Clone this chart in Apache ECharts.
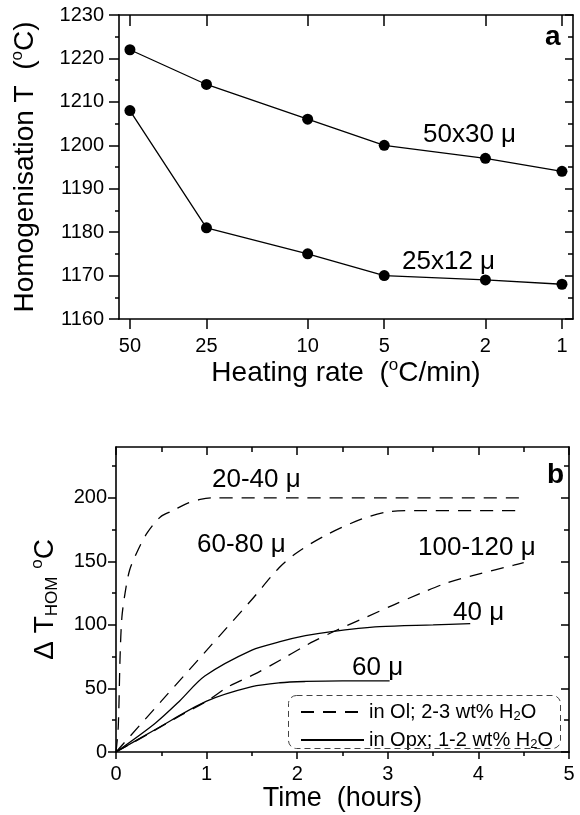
<!DOCTYPE html>
<html><head><meta charset="utf-8">
<script src="https://cdn.jsdelivr.net/npm/echarts@6/dist/echarts.min.js"></script>
<style>html,body{margin:0;padding:0;background:#fff}#c{width:580px;height:815px}</style>
</head><body><div id="c"></div>
<script>
// ---------- Panel a ----------
const heatingRates = [50, 25, 10, 5, 2, 1];
const homT_50x30 = [1222, 1214, 1206, 1200, 1197, 1194];
const homT_25x12 = [1208, 1181, 1175, 1170, 1169, 1168];
const rateAxisMin = 0.905, rateAxisMax = 55.2;

// ---------- Panel b ----------
const t_20_40 = [0, 0.025, 0.045, 0.065, 0.1, 0.15, 0.23, 0.34, 0.49, 0.63, 0.78, 0.93, 1.07, 2.0, 3.0, 4.53];
const d_20_40 = [0, 20, 75, 106, 125, 143, 157, 172, 185, 190, 195.5, 198.7, 200, 200, 200, 200];
const t_60_80 = [0, 0.5, 1.0, 1.5, 1.8, 2.0, 2.3, 2.7, 3.0, 3.3, 4.46];
const d_60_80 = [0, 40, 80, 120, 145, 157, 170, 183, 189, 190, 190];
const t_100_120 = [0, 0.37, 0.66, 1.0, 1.24, 1.53, 1.83, 2.05, 2.18, 2.44, 2.77, 3.06, 3.36, 3.65, 4.0, 4.39, 4.5];
const d_100_120 = [0, 14.7, 26.7, 40, 51.4, 61.3, 73, 82, 87, 96, 106.4, 115.6, 124.8, 133, 140, 147, 149];
const t_40 = [0, 0.43, 0.7, 0.98, 1.5, 1.81, 2.09, 2.36, 2.91, 3.5, 3.91];
const d_40 = [0, 22.5, 40, 59.8, 80.2, 86.8, 91.5, 94.6, 98.6, 100, 101];
const t_60 = [0, 0.43, 1.0, 1.5, 1.81, 2.09, 2.5, 3.02];
const d_60 = [0, 17.5, 40, 51.4, 54.5, 55.5, 56, 56];
const yTicksB = [0, 50, 100, 150, 200];

const legendOl = 'in Ol; 2-3 wt% H2O';
const legendOpx = 'in Opx; 1-2 wt% H2O';

const zip = (a, b) => a.map((v, i) => [v, b[i]]);
const FONT = 'Liberation Sans, Arial, Helvetica, sans-serif';
const BLACK = '#000';

const chart = echarts.init(document.getElementById('c'), null, {renderer: 'canvas'});

const axisLineStyle = {show: true, onZero: false, lineStyle: {color: BLACK, width: 1.6}};
const rateTickValues = heatingRates.map(r => Math.log10(r));

const option = {
  animation: false,
  backgroundColor: '#fff',
  textStyle: {fontFamily: FONT, color: BLACK},
  grid: [
    {left: 119, top: 15, width: 454, height: 304},
    {left: 116, top: 447, width: 453, height: 305}
  ],
  xAxis: [
    { // panel a bottom
      type: 'value', gridIndex: 0, inverse: true,
      min: Math.log10(rateAxisMin), max: Math.log10(rateAxisMax),
      axisLine: axisLineStyle,
      axisTick: {show: true, inside: false, length: 10, lineStyle: {color: BLACK, width: 1.5}, customValues: rateTickValues},
      axisLabel: {fontSize: 20, color: BLACK, margin: 17, fontFamily: FONT, customValues: rateTickValues,
        formatter: v => String(Math.round(Math.pow(10, v)))},
      splitLine: {show: false},
      name: '{t|Heating rate  (}{sup|o}{t|C/min)}', nameLocation: 'middle', nameGap: 35,
      nameTextStyle: {rich: {
        t: {fontSize: 28, lineHeight: 32, fontFamily: FONT, color: BLACK},
        sup: {fontSize: 17, lineHeight: 17, verticalAlign: 'top', fontFamily: FONT, color: BLACK}}}
    },
    { // panel a top mirror
      type: 'value', gridIndex: 0, inverse: true, position: 'top',
      min: Math.log10(rateAxisMin), max: Math.log10(rateAxisMax),
      axisLine: axisLineStyle,
      axisTick: {show: true, inside: true, length: 11, lineStyle: {color: BLACK, width: 1.5}, customValues: rateTickValues},
      axisLabel: {show: false, customValues: rateTickValues},
      splitLine: {show: false}
    },
    { // panel b bottom
      type: 'value', gridIndex: 1, min: 0, max: 5, interval: 1,
      axisLine: axisLineStyle,
      axisTick: {show: true, inside: false, length: 7, lineStyle: {color: BLACK, width: 1.5}},
      minorTick: {show: true, splitNumber: 2, length: 4, lineStyle: {color: BLACK, width: 1.5}},
      axisLabel: {fontSize: 20, color: BLACK, margin: 12, fontFamily: FONT},
      splitLine: {show: false},
      name: 'Time  (hours)', nameLocation: 'middle', nameGap: 31,
      nameTextStyle: {fontSize: 27, fontFamily: FONT, color: BLACK}
    },
    { // panel b top mirror
      type: 'value', gridIndex: 1, min: 0, max: 5, interval: 1, position: 'top',
      axisLine: axisLineStyle,
      axisTick: {show: true, inside: true, length: 8, lineStyle: {color: BLACK, width: 1.5}},
      minorTick: {show: true, splitNumber: 2, length: 5, lineStyle: {color: BLACK, width: 1.5}},
      axisLabel: {show: false},
      splitLine: {show: false}
    }
  ],
  yAxis: [
    { // panel a left
      type: 'value', gridIndex: 0, min: 1160, max: 1230, interval: 10,
      axisLine: axisLineStyle,
      axisTick: {show: true, inside: false, length: 10, lineStyle: {color: BLACK, width: 1.5}},
      minorTick: {show: true, splitNumber: 2, length: 4, lineStyle: {color: BLACK, width: 1.5}},
      axisLabel: {fontSize: 20, color: BLACK, margin: 15, fontFamily: FONT, formatter: v => String(v)},
      splitLine: {show: false},
      name: '{t|Homogenisation T  (}{sup|o}{t|C)}', nameLocation: 'middle', nameGap: 78, nameRotate: 90,
      nameTextStyle: {rich: {
        t: {fontSize: 28, lineHeight: 32, fontFamily: FONT, color: BLACK},
        sup: {fontSize: 17, lineHeight: 17, verticalAlign: 'top', fontFamily: FONT, color: BLACK}}}
    },
    { // panel a right mirror
      type: 'value', gridIndex: 0, min: 1160, max: 1230, interval: 10, position: 'right',
      axisLine: axisLineStyle,
      axisTick: {show: true, inside: true, length: 8, lineStyle: {color: BLACK, width: 1.5}},
      minorTick: {show: true, splitNumber: 2, length: 5, lineStyle: {color: BLACK, width: 1.5}},
      axisLabel: {show: false},
      splitLine: {show: false}
    },
    { // panel b left
      type: 'value', gridIndex: 1, min: 0, max: 240, interval: 50,
      axisLine: axisLineStyle,
      axisTick: {show: true, inside: false, length: 8, lineStyle: {color: BLACK, width: 1.5}, customValues: yTicksB},
      minorTick: {show: true, splitNumber: 2, length: 4, lineStyle: {color: BLACK, width: 1.5}},
      axisLabel: {fontSize: 20, color: BLACK, margin: 9, fontFamily: FONT, customValues: yTicksB},
      splitLine: {show: false},
      name: '{t|\u0394 T}{sub|HOM}{t| }{sup|o}{t|C}', nameLocation: 'middle', nameGap: 55, nameRotate: 90,
      nameTextStyle: {rich: {
        t: {fontSize: 28, lineHeight: 32, fontFamily: FONT, color: BLACK},
        sub: {fontSize: 17, lineHeight: 17, verticalAlign: 'bottom', fontFamily: FONT, color: BLACK},
        sup: {fontSize: 17, lineHeight: 17, verticalAlign: 'top', fontFamily: FONT, color: BLACK}}}
    },
    { // panel b right mirror
      type: 'value', gridIndex: 1, min: 0, max: 240, interval: 50, position: 'right',
      axisLine: axisLineStyle,
      axisTick: {show: true, inside: true, length: 8, lineStyle: {color: BLACK, width: 1.5}, customValues: yTicksB},
      minorTick: {show: true, splitNumber: 2, length: 5, lineStyle: {color: BLACK, width: 1.5}},
      axisLabel: {show: false, customValues: yTicksB},
      splitLine: {show: false}
    }
  ],
  legend: {
    data: [legendOl, legendOpx],
    orient: 'vertical', left: 295, top: 697,
    itemWidth: 63, itemHeight: 14, itemGap: 7,
    selectedMode: false,
    itemStyle: {opacity: 0},
    formatter: name => name === legendOl
      ? '{t|in Ol; 2-3 wt% H}{s|2}{t|O}'
      : '{t|in Opx; 1-2 wt% H}{s|2}{t|O}',
    textStyle: {
      rich: {
        t: {fontSize: 20, lineHeight: 22, fontFamily: FONT, color: BLACK},
        s: {fontSize: 13, lineHeight: 13, verticalAlign: 'bottom', fontFamily: FONT, color: BLACK}
      }
    }
  },
  graphic: [
    {type: 'rect', left: 288, top: 695, z: 5,
      shape: {width: 272, height: 53, r: 8},
      style: {fill: 'rgba(0,0,0,0)', stroke: '#444', lineWidth: 1, lineDash: [6, 4]}},
    {type: 'text', x: 423, y: 135, style: {text: '50x30 \u03bc', font: '26px ' + FONT, fill: BLACK, verticalAlign: 'middle'}},
    {type: 'text', x: 402, y: 262, style: {text: '25x12 \u03bc', font: '26px ' + FONT, fill: BLACK, verticalAlign: 'middle'}},
    {type: 'text', x: 545, y: 37, style: {text: 'a', font: 'bold 28px ' + FONT, fill: BLACK, verticalAlign: 'middle'}},
    {type: 'text', x: 212, y: 480, style: {text: '20-40 \u03bc', font: '26px ' + FONT, fill: BLACK, verticalAlign: 'middle'}},
    {type: 'text', x: 197, y: 545, style: {text: '60-80 \u03bc', font: '26px ' + FONT, fill: BLACK, verticalAlign: 'middle'}},
    {type: 'text', x: 418, y: 548, style: {text: '100-120 \u03bc', font: '26px ' + FONT, fill: BLACK, verticalAlign: 'middle'}},
    {type: 'text', x: 453, y: 613, style: {text: '40 \u03bc', font: '26px ' + FONT, fill: BLACK, verticalAlign: 'middle'}},
    {type: 'text', x: 352, y: 668, style: {text: '60 \u03bc', font: '26px ' + FONT, fill: BLACK, verticalAlign: 'middle'}},
    {type: 'text', x: 547, y: 475, style: {text: 'b', font: 'bold 28px ' + FONT, fill: BLACK, verticalAlign: 'middle'}}
  ],
  series: [
    {name: '50x30', type: 'line', xAxisIndex: 0, yAxisIndex: 0,
      data: zip(rateTickValues, homT_50x30), symbol: 'circle', symbolSize: 11,
      itemStyle: {color: BLACK}, lineStyle: {color: BLACK, width: 1.3}},
    {name: '25x12', type: 'line', xAxisIndex: 0, yAxisIndex: 0,
      data: zip(rateTickValues, homT_25x12), symbol: 'circle', symbolSize: 11,
      itemStyle: {color: BLACK}, lineStyle: {color: BLACK, width: 1.3}},
    ...[[t_20_40, d_20_40], [t_60_80, d_60_80], [t_100_120, d_100_120]].map(([t, d]) => ({
      name: legendOl, type: 'line', xAxisIndex: 2, yAxisIndex: 2,
      data: zip(t, d), symbol: 'none', smooth: 0.3,
      itemStyle: {color: BLACK},
      lineStyle: {color: BLACK, width: 1.3, type: [13, 9]}
    })),
    ...[[t_40, d_40], [t_60, d_60]].map(([t, d]) => ({
      name: legendOpx, type: 'line', xAxisIndex: 2, yAxisIndex: 2,
      data: zip(t, d), symbol: 'none', smooth: 0.3,
      itemStyle: {color: BLACK},
      lineStyle: {color: BLACK, width: 1.3, type: 'solid'}
    }))
  ]
};
chart.setOption(option);
</script>
</body></html>
